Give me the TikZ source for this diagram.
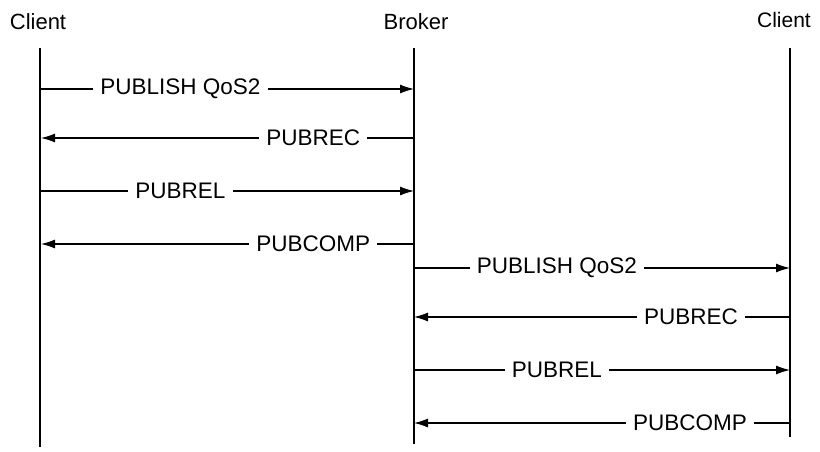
\documentclass[tikz,border=0pt]{standalone}
\usepackage{fontspec}
\setmainfont{Liberation Sans}
\usetikzlibrary{arrows.meta}
\begin{document}
\begin{tikzpicture}[x=1pt,y=-1pt,
  lifeline/.style={line width=2.9pt},
  msg/.style={line width=1.1pt,-{Latex[length=14pt,width=9pt]}},
  msglabel/.style={fill=white,inner xsep=7pt,inner ysep=2pt,font=\fontsize{22.5}{25}\selectfont},
  actor/.style={font=\fontsize{22}{26}\selectfont,inner sep=0pt}]
\useasboundingbox (0,0) rectangle (820,451);
% actors
\node[actor] (A) at (38,22) {Client};
\node[actor] (B) at (416,22) {Broker};
\node[actor,font=\fontsize{21}{24}\selectfont] (C) at (784,20) {Client};
% lifelines
\coordinate (At) at (40,48); \coordinate (Ab) at (40,447);
\coordinate (Bt) at (414,48); \coordinate (Bb) at (414,444);
\coordinate (Ct) at (790,48); \coordinate (Cb) at (790,437);
\draw[lifeline] (At) -- (Ab);
\draw[lifeline] (Bt) -- (Bb);
\draw[lifeline] (Ct) -- (Cb);
% message anchors
\foreach \n/\y in {1/89,2/138,3/191,4/244,5/268,6/317,7/370,8/423}{
  \coordinate (a\n) at (41,\y);
  \coordinate (b\n) at (414,\y);
  \coordinate (c\n) at (790,\y);
}
\draw[msg] (a1) -- (b1) node[msglabel,pos=0.374] (m1) {PUBLISH QoS2};
\draw[msg] (b2) -- (a2) node[msglabel,pos=0.27] (m2) {PUBREC};
\draw[msg] (a3) -- (b3) node[msglabel,pos=0.374] (m3) {PUBREL};
\draw[msg] (b4) -- (a4) node[msglabel,pos=0.27] (m4) {PUBCOMP};
\draw[msg] (b5) -- (c5) node[msglabel,pos=0.38] (m5) {PUBLISH QoS2};
\draw[msg] (c6) -- (b6) node[msglabel,pos=0.263] (m6) {PUBREC};
\draw[msg] (b7) -- (c7) node[msglabel,pos=0.38] (m7) {PUBREL};
\draw[msg] (c8) -- (b8) node[msglabel,pos=0.266] (m8) {PUBCOMP};
\end{tikzpicture}
\end{document}
